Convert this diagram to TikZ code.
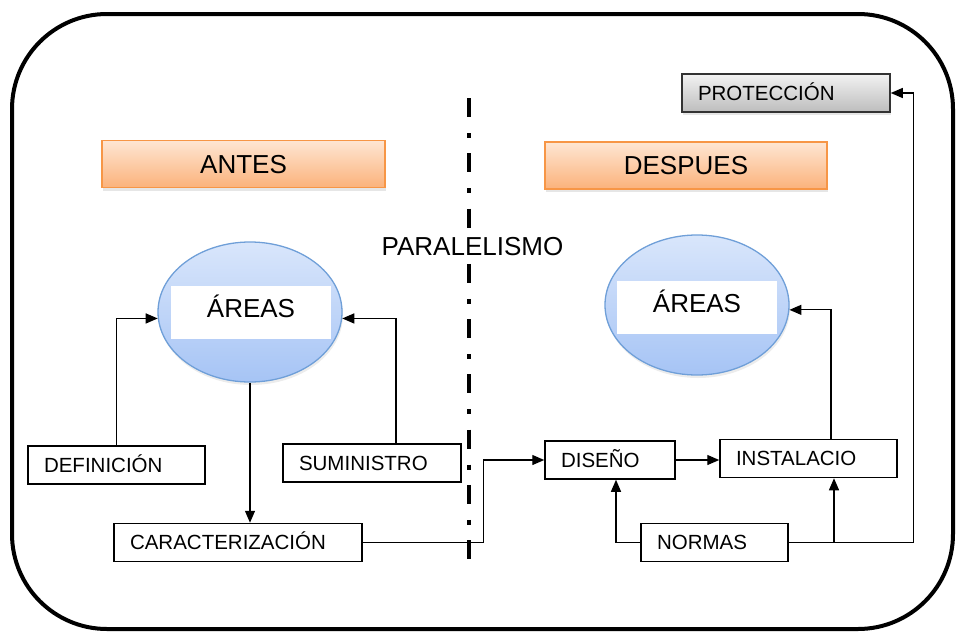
\documentclass[tikz,border=0pt]{standalone}
\usepackage{fontspec}
\setmainfont{Liberation Sans}
\usetikzlibrary{arrows.meta,shapes.geometric,shadows}
\definecolor{orTop}{HTML}{FEE6D3}
\definecolor{orBot}{HTML}{FBB27B}
\definecolor{orLine}{HTML}{F79646}
\definecolor{blTop}{HTML}{D9E6FB}
\definecolor{blBot}{HTML}{A6C4F5}
\definecolor{blLine}{HTML}{6F9FD8}
\definecolor{gyTop}{HTML}{F2F2F2}
\definecolor{gyBot}{HTML}{BDBDBD}
\def\boxfont{\fontsize{20.5}{24}\selectfont}
\def\bigfont{\fontsize{26}{30}\selectfont}

\begin{document}
\begin{tikzpicture}[x=1pt,y=-1pt,
    arr/.style={line width=1.3pt,-{Triangle[length=12pt,width=10pt]}},
    box/.style={draw,line width=1.5pt,inner xsep=16pt,inner ysep=0pt,minimum height=38pt,
      align=left,font=\boxfont,text height=14.7pt,text depth=0pt},
    head/.style={draw=orLine,line width=1.5pt,top color=orTop,bottom color=orBot,
      minimum height=47pt,minimum width=283pt,inner sep=0pt,font=\bigfont,
      text height=18.7pt,text depth=0pt,
      drop shadow={opacity=0.2,shadow xshift=1pt,shadow yshift=-3pt}},
    blob/.style={ellipse,draw=blLine,line width=1.3pt,top color=blTop,bottom color=blBot,
      minimum width=184pt,minimum height=140pt,inner sep=0pt,
      drop shadow={opacity=0.15,shadow xshift=1pt,shadow yshift=-3pt}},
    tag/.style={fill=white,minimum width=160pt,minimum height=53pt,inner sep=0pt,
      font=\bigfont,text height=18.7pt,text depth=9pt}]
    %%%%% START %%%%%

    \useasboundingbox (0,0) rectangle (956,632);
    \draw[line width=4pt,rounded corners=95pt] (12,14) rectangle (953,629);

    % divider
    \coordinate (divtop) at (469,98);
    \coordinate (divbot) at (469,559);
    \draw[line width=4.5pt,dash pattern=on 19pt off 16pt on 5pt off 15.25pt] (divtop) -- (divbot);
    \node[fill=white,inner sep=1pt,font=\bigfont,text height=18.7pt,text depth=0pt] (par) at (472.5,246.5) {PARALELISMO};

    % headers
    \node[head] (antes) at (243.5,164) {ANTES};
    \node[head,minimum width=282pt] (despues) at (686,165.5) {DESPUES};

    % areas
    \node[blob] (areasA) at (250,312) {};
    \node[tag] (tagA) at (251,312.5) {ÁREAS};
    \node[blob] (areasB) at (697,305) {};
    \node[tag] (tagB) at (697,307.5) {ÁREAS};

    % left side
    \node[box,text width=145pt] (def) at (116.5,465) {DEFINICIÓN};
    \node[box,text width=146pt] (sum) at (372,463) {SUMINISTRO};
    \node[box,text width=216pt] (car) at (238,542.5) {CARACTERIZACIÓN};

    % right side
    \node[box,text width=98pt] (dis) at (610,460) {DISEÑO};
    \node[box,text width=145pt] (ins) at (808.5,458.5) {INSTALACIO};
    \node[box,text width=115pt] (nor) at (714.5,542.5) {NORMAS};
    \node[box,text width=176pt,top color=gyTop,bottom color=gyBot,draw=black!80,
      drop shadow={opacity=0.2,shadow xshift=1pt,shadow yshift=-3pt}] (pro) at (786,93) {PROTECCIÓN};

    % connectors
    \draw[arr] (def.north) |- (areasA.184);
    \draw[arr] ([xshift=24pt]sum.north) |- (areasA.356);
    \draw[arr] (areasA.south) -- (areasA.south |- car.north);
    \draw[arr] (car.east) -- ++(121,0) |- (dis.west);
    \draw[arr] (dis.east) -- (dis.east -| ins.west);
    \draw[arr] ([xshift=22.5pt]ins.north) |- (areasB.357);
    \draw[arr] (nor.west) -| ([xshift=6pt]dis.south);
    \draw[arr] (nor.east) -- ++(125,0) |- (pro.east);
    \coordinate (brn) at ([xshift=25.5pt]ins.south);
    \draw[arr] (brn |- nor.east) -- (brn);

    %%%%% END %%%%%
\end{tikzpicture}
\end{document}
